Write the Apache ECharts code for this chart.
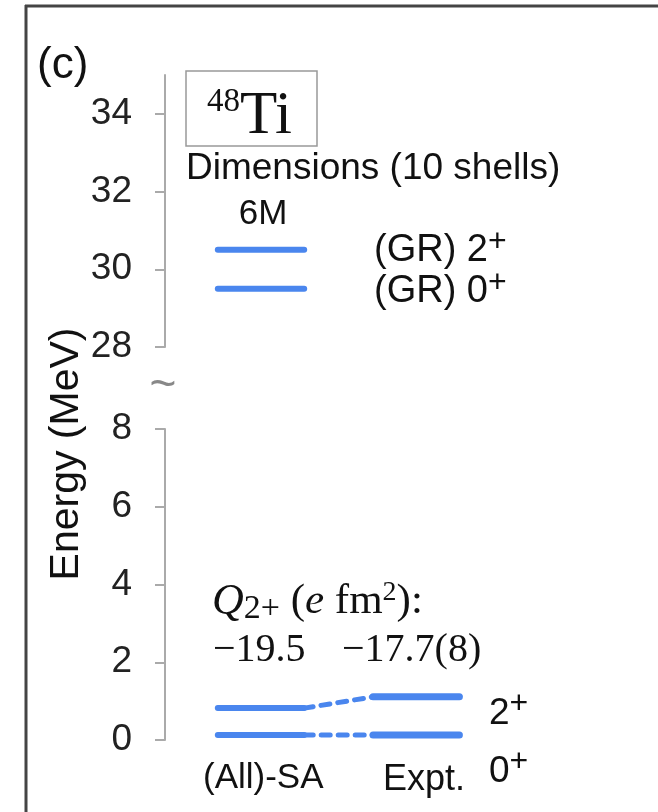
<!DOCTYPE html>
<html>
<head>
<meta charset="utf-8">
<script src="https://cdn.jsdelivr.net/npm/echarts@6/dist/echarts.min.js"></script>
<style>html,body{margin:0;padding:0;background:#fff}#c{width:658px;height:812px}</style>
</head>
<body>
<div id="c"></div>
<script>
// ---- data ----
var columns = ['(All)-SA', 'Expt.'];           // column 0, column 1
var spins = ['0+', '2+'];
var saEnergies = [0.13, 0.82];                 // MeV, (All)-SA
var exptEnergies = [0.13, 1.11];               // MeV, experiment
var grEnergies = [29.5, 30.5];                 // MeV, 6M (GR) states
var upperTicks = [28, 30, 32, 34];
var lowerTicks = [0, 2, 4, 6, 8];
var quadMoments = ['\u221219.5', '\u221217.7(8)'];

var SANS = '"Liberation Sans", Arial, sans-serif';
var SERIF = '"Liberation Serif", "Times New Roman", serif';
var BLUE = '#4a86ee';
var HW = 0.27; // half width of a level bar in column units

function level(col, e, grid, w) {
  return {
    type: 'line', xAxisIndex: grid, yAxisIndex: grid, symbol: 'none', silent: true,
    data: [[col - HW, e], [col + HW, e]],
    lineStyle: { color: BLUE, width: w, cap: 'round' }
  };
}
function connector(e0, e1) {
  return {
    type: 'line', xAxisIndex: 1, yAxisIndex: 1, symbol: 'none', silent: true,
    data: [[0 + HW, e0], [0.97 - HW, e1]],
    lineStyle: { color: BLUE, width: 5, type: [9, 8], cap: 'round' }
  };
}

var series = [];
grEnergies.forEach(function (e) { series.push(level(0, e, 0, 6)); });
saEnergies.forEach(function (e) { series.push(level(0, e, 1, 6)); });
exptEnergies.forEach(function (e) { series.push(level(0.97, e, 1, 7)); });
saEnergies.forEach(function (e, i) { series.push(connector(e, exptEnergies[i])); });

function yAx(grid, min, max, ticks) {
  return {
    type: 'value', gridIndex: grid, min: min, max: max, interval: 2,
    axisLine: { show: true, onZero: false, lineStyle: { color: '#aaa', width: 2 } },
    axisTick: { show: true, length: 10, customValues: ticks, lineStyle: { color: '#aaa', width: 2 } },
    axisLabel: { customValues: ticks, margin: 33, fontSize: 37, fontFamily: SANS, color: '#222' },
    splitLine: { show: false }
  };
}
function xAx(grid) {
  return { type: 'value', gridIndex: grid, min: -0.6, max: 1.4, show: false };
}

var g = [];
function txt(x, y, text, font, extra) {
  var s = Object.assign({ text: text, font: font, fill: '#111', textVerticalAlign: 'middle' }, extra || {});
  g.push({ type: 'text', x: x, y: y, style: s, silent: true });
}
function supText(x, y, base, sup, size, supSize, raise) {
  g.push({ type: 'text', x: x, y: y, silent: true, style: {
    text: base + '{p|' + sup + '}', font: size + 'px ' + SANS, fill: '#111',
    rich: { p: { font: supSize + 'px ' + SANS, padding: [0, 0, raise, 0] } }
  }});
}

// frame
g.push({ type: 'line', shape: { x1: 25, y1: 6, x2: 658, y2: 6 }, style: { stroke: '#444', lineWidth: 3 } });
g.push({ type: 'line', shape: { x1: 26, y1: 5, x2: 26, y2: 812 }, style: { stroke: '#444', lineWidth: 3 } });
// nucleus box
g.push({ type: 'rect', shape: { x: 186, y: 71, width: 131, height: 75 }, style: { fill: 'none', stroke: '#999', lineWidth: 1.5 } });

txt(37, 66, '(c)', '44px ' + SANS);
g.push({ type: 'text', x: 207, y: 86, silent: true, style: {
  text: '{s|48}{b|Ti}', fill: '#111',
  rich: { s: { font: '33px ' + SERIF, verticalAlign: 'top', padding: [0, 0, 24, 0] }, b: { font: '61px ' + SERIF } }
}});
txt(186, 169, 'Dimensions (10 shells)', '37px ' + SANS);
txt(263, 214, '6M', '35px ' + SANS, { textAlign: 'center' });
supText(374, 226, '(GR) 2', '+', 38, 32, 18);
supText(374, 267, '(GR) 0', '+', 38, 32, 18);
g.push({ type: 'text', x: 212, y: 578, silent: true, style: {
  text: '{q|Q}{sb|2+}{n| (}{i|e}{n| fm}{su|2}{n|):}', fill: '#111',
  rich: {
    q: { font: 'italic 44px ' + SERIF },
    sb: { font: '34px ' + SERIF, padding: [14, 0, 0, 0] },
    n: { font: '43px ' + SERIF },
    i: { font: 'italic 43px ' + SERIF },
    su: { font: '28px ' + SERIF, padding: [0, 0, 18, 0] }
  }
}});
txt(213, 650, quadMoments[0], '40px ' + SERIF);
txt(342, 650, quadMoments[1], '40px ' + SERIF);
supText(489, 688, '2', '+', 37, 32, 20);
supText(489, 746, '0', '+', 37, 32, 20);
txt(203, 778, columns[0], '35px ' + SANS);
txt(383, 780, columns[1], '36px ' + SANS);
g.push({ type: 'text', x: 67, y: 454, rotation: Math.PI / 2, silent: true, style: {
  text: 'Energy (MeV)', font: '41px ' + SANS, fill: '#111', textAlign: 'center', textVerticalAlign: 'middle'
}});
txt(163, 386, '~', '46px ' + SANS, { fill: '#888', textAlign: 'center' });

var chart = echarts.init(document.getElementById('c'));
chart.setOption({
  animation: false,
  backgroundColor: '#fff',
  grid: [
    { left: 165, top: 75, width: 320, height: 272 },
    { left: 165, top: 429, width: 320, height: 311 }
  ],
  xAxis: [xAx(0), xAx(1)],
  yAxis: [yAx(0, 28, 35, upperTicks), yAx(1, 0, 8, lowerTicks)],
  series: series,
  graphic: g
});
</script>
</body>
</html>
